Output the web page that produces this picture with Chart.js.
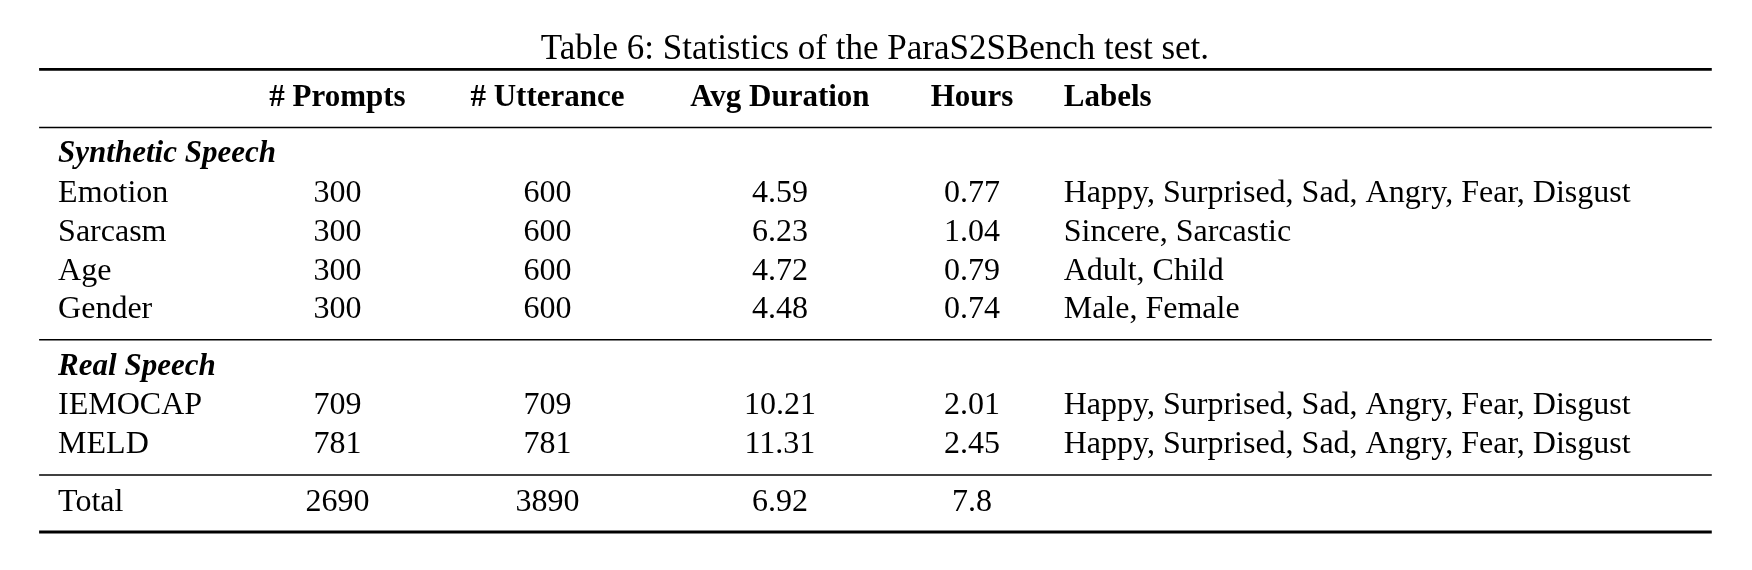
<!DOCTYPE html>
<html>
<head>
<meta charset="utf-8">
<script src="https://cdn.jsdelivr.net/npm/chart.js@4/dist/chart.umd.min.js"></script>
<style>
body{margin:0;background:#fff;}
canvas{display:block;}
</style>
</head>
<body>
<canvas id="tbl" width="1752" height="570"></canvas>
<script>
const titleText = "Table 6: Statistics of the ParaS2SBench test set.";
const headers = ["# Prompts", "# Utterance", "Avg Duration", "Hours", "Labels"];
const synthRows = ["Emotion", "Sarcasm", "Age", "Gender"];
const realRows = ["IEMOCAP", "MELD"];
const prompts = ["300", "300", "300", "300", "709", "781", "2690"];
const utterances = ["600", "600", "600", "600", "709", "781", "3890"];
const avgDuration = ["4.59", "6.23", "4.72", "4.48", "10.21", "11.31", "6.92"];
const hours = ["0.77", "1.04", "0.79", "0.74", "2.01", "2.45", "7.8"];
const labelSets = [
  "Happy, Surprised, Sad, Angry, Fear, Disgust",
  "Sincere, Sarcastic",
  "Adult, Child",
  "Male, Female",
  "Happy, Surprised, Sad, Angry, Fear, Disgust",
  "Happy, Surprised, Sad, Angry, Fear, Disgust",
  ""
];

// layout in table units (scale maps them onto the canvas)
const colX = [52, 302, 490, 698, 870, 952];
const rowY = {title:45, top:62, head:88, r1:114, synth:138, body:[173,208,243,277,363,398,450], real:328, r2:304, r3:425, bottom:476};

const F = '"Liberation Serif", "DejaVu Serif", serif';

const tablePlugin = {
  id: "table",
  afterDraw(chart){
    const c = chart.ctx, x = chart.scales.x, y = chart.scales.y;
    const px = v => x.getPixelForValue(v), py = v => y.getPixelForValue(v);
    c.save();
    c.fillStyle = "#000";
    c.textBaseline = "middle";
    c.font = "35px " + F;
    c.textAlign = "center";
    c.fillText(titleText, px(783), py(rowY.title));
    c.strokeStyle = "#000";
    const rule = (yy, w) => { c.lineWidth = w; c.beginPath(); c.moveTo(px(35), py(yy)); c.lineTo(px(1532), py(yy)); c.stroke(); };
    rule(rowY.top, 2.8); rule(rowY.r1, 1.5); rule(rowY.r2, 1.5); rule(rowY.r3, 1.5); rule(rowY.bottom, 2.8);
    c.font = "bold 31px " + F;
    headers.forEach((h, i) => {
      c.textAlign = i === 4 ? "left" : "center";
      c.fillText(h, px(colX[i + 1]), py(rowY.head));
    });
    c.font = "italic bold 31px " + F;
    c.textAlign = "left";
    c.fillText("Synthetic Speech", px(colX[0]), py(rowY.synth));
    c.fillText("Real Speech", px(colX[0]), py(rowY.real));
    c.font = "32px " + F;
    const names = synthRows.concat(realRows, ["Total"]);
    names.forEach((n, i) => {
      const yy = py(rowY.body[i]);
      c.textAlign = "left";
      c.fillText(n, px(colX[0]), yy);
      c.fillText(labelSets[i], px(colX[5]), yy);
      c.textAlign = "center";
      c.fillText(prompts[i], px(colX[1]), yy);
      c.fillText(utterances[i], px(colX[2]), yy);
      c.fillText(avgDuration[i], px(colX[3]), yy);
      c.fillText(hours[i], px(colX[4]), yy);
    });
    c.restore();
  }
};

new Chart(document.getElementById("tbl"), {
  type: "scatter",
  data: { datasets: [{ data: [] }] },
  options: {
    responsive: false,
    animation: false,
    devicePixelRatio: 1,
    layout: { padding: 0 },
    plugins: { legend: { display: false }, tooltip: { enabled: false } },
    scales: {
      x: { type: "linear", min: 0, max: 1568, display: false },
      y: { type: "linear", min: 0, max: 510, reverse: true, display: false }
    }
  },
  plugins: [tablePlugin]
});
</script>
</body>
</html>
